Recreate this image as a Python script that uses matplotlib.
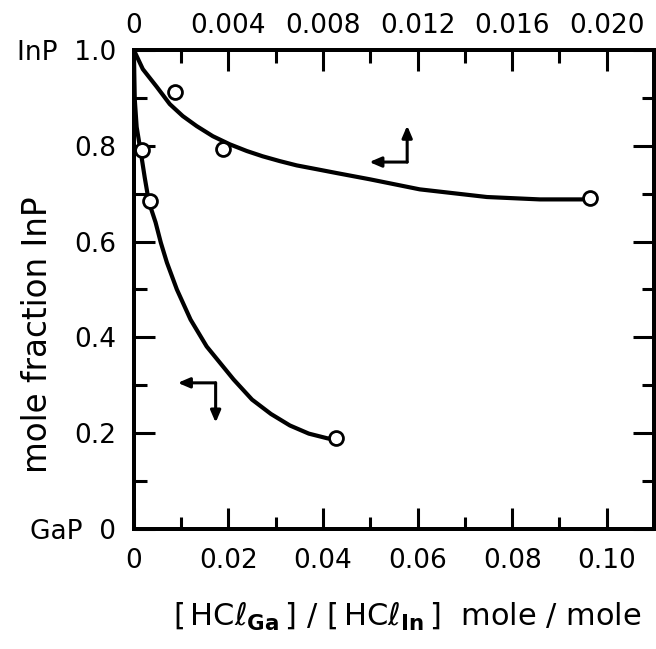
import numpy as np
import matplotlib
matplotlib.use('Agg')
import matplotlib.pyplot as plt

plt.rcParams['font.family'] = ['DejaVu Sans']
plt.rcParams['mathtext.fontset'] = 'dejavusans'

# lower curve, read against the bottom axis
low_x = [0.0, 0.0002, 0.0006, 0.0015, 0.0023, 0.0032, 0.0046, 0.0057, 0.0070,
         0.0091, 0.0120, 0.0154, 0.0211, 0.0250, 0.0290, 0.0330, 0.0370,
         0.0410, 0.0425]
low_y = [1.0, 0.897, 0.839, 0.785, 0.734, 0.682, 0.640, 0.598, 0.556,
         0.500, 0.437, 0.381, 0.312, 0.270, 0.240, 0.216, 0.199,
         0.189, 0.188]
low_pts_x = [0.0017, 0.0034, 0.0427]
low_pts_y = [0.791, 0.684, 0.190]

# upper curve, read against the top axis
up_x = [0.0, 0.00038, 0.00097, 0.00152, 0.00207, 0.00266, 0.00334, 0.00406,
        0.00478, 0.00545, 0.00617, 0.00689, 0.00774, 0.00858, 0.00998,
        0.01209, 0.01493, 0.01717, 0.0192]
up_y = [1.0, 0.960, 0.923, 0.887, 0.862, 0.841, 0.820, 0.803,
        0.789, 0.778, 0.768, 0.759, 0.751, 0.743, 0.730,
        0.709, 0.693, 0.688, 0.688]
up_pts_x = [0.00173, 0.00376, 0.01928]
up_pts_y = [0.912, 0.793, 0.690]

# axis scales and labels
xb_ticks = [0, 0.02, 0.04, 0.06, 0.08, 0.10]
xb_labels = ['0', '0.02', '0.04', '0.06', '0.08', '0.10']
xt_ticks = [0, 0.004, 0.008, 0.012, 0.016, 0.020]
xt_labels = ['0', '0.004', '0.008', '0.012', '0.016', '0.020']
y_ticks = [0, 0.2, 0.4, 0.6, 0.8, 1.0]
y_labels = ['GaP  0', '0.2', '0.4', '0.6', '0.8', 'InP  1.0']

# key arrows (corner, left tip, vertical tip) in bottom-axis units
arrow_low = [(0.0173, 0.305), (0.0093, 0.305), (0.0173, 0.222)]
arrow_up = [(0.0578, 0.766), (0.0498, 0.766), (0.0578, 0.842)]

fig = plt.figure(figsize=(6.56, 6.49), dpi=100)
ax = fig.add_axes([0.204, 0.185, 0.793, 0.738])
ax2 = ax.twiny()

lw = 3.0
fs = 19
for a in (ax, ax2):
    for s in a.spines.values():
        s.set_linewidth(2.8)

ax.set_xlim(0, 0.11)
ax.set_ylim(0, 1.0)
ax2.set_xlim(0, 0.022)

ax.set_xticks(xb_ticks)
ax.set_xticklabels(xb_labels)
ax.set_xticks(np.arange(0, 0.1101, 0.01), minor=True)
ax.set_yticks(y_ticks)
ax.set_yticklabels(y_labels)
ax.set_yticks(np.arange(0, 1.001, 0.1), minor=True)
ax2.set_xticks(xt_ticks)
ax2.set_xticklabels(xt_labels)
ax2.set_xticks(np.arange(0, 0.0221, 0.002), minor=True)

ax.tick_params(axis='both', which='major', direction='in', length=15, width=2.2,
               labelsize=fs, right=True, top=False)
ax.tick_params(axis='both', which='minor', direction='in', length=9, width=2.2,
               right=True, top=False)
ax.tick_params(axis='x', which='major', pad=14)
ax.tick_params(axis='y', which='major', pad=13)
ax2.tick_params(axis='x', which='major', direction='in', length=15, width=2.2,
                labelsize=fs, pad=8)
ax2.tick_params(axis='x', which='minor', direction='in', length=9, width=2.2)

ax.plot(low_x, low_y, color='black', lw=lw, solid_capstyle='round',
        solid_joinstyle='round')
ax.plot(low_pts_x, low_pts_y, 'o', ms=10, mfc='white', mec='black', mew=2.0)
ax2.plot(up_x, up_y, color='black', lw=lw, solid_capstyle='round',
         solid_joinstyle='round')
ax2.plot(up_pts_x, up_pts_y, 'o', ms=10, mfc='white', mec='black', mew=2.0)

for corner, left, vert in (arrow_low, arrow_up):
    for tip in (left, vert):
        ax.annotate('', xy=tip, xytext=corner,
                    arrowprops=dict(arrowstyle='-|>,head_length=0.7,head_width=0.3',
                                    color='black', lw=2.2, shrinkA=0, shrinkB=0))

ax.set_xlabel(r'$\left[\,\mathrm{HC}\ell_{\mathbf{Ga}}\,\right]\ /\ '
              r'\left[\,\mathrm{HC}\ell_{\mathbf{In}}\,\right]$  mole / mole',
              fontsize=22)
ax.xaxis.set_label_coords(0.525, -0.15)
ax.set_ylabel('mole fraction InP', fontsize=23.5)
ax.yaxis.set_label_coords(-0.154, 0.406)

fig.savefig('out.png', dpi=100)
